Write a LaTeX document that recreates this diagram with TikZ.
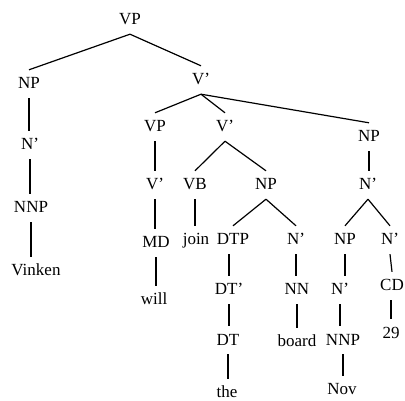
\documentclass[tikz,border=0pt]{standalone}
\usepackage{fontspec}
\setmainfont{Liberation Serif}
\begin{document}
\begin{tikzpicture}[x=1pt,y=-1pt,
  cat/.style={font=\fontsize{17}{19}\selectfont,text height=10pt,text depth=0pt,inner xsep=1pt,inner ysep=9pt},
  edge/.style={draw,line width=1.2pt}]
\useasboundingbox (0,0) rectangle (405,401);
% top
\node[cat](vp) at (130,20){VP};
\node[cat](np1) at (29,84){NP};\node[cat](vbar1) at (201,80){V'};
% subject
\node[cat](nbar1) at (30,145){N'};\node[cat](nnp1) at (31,208){NNP};\node[cat](vinken) at (36,271){Vinken};
% modal
\node[cat](vp2) at (155,127){VP};\node[cat](vbar2) at (155,185){V'};\node[cat](md) at (156,243){MD};\node[cat](will) at (154,300){will};
% verb and object
\node[cat](vbar3) at (225,127){V'};\node[cat](vb) at (195,185){VB};\node[cat](join) at (196,240){join};
\node[cat](np2) at (266,185){NP};\node[cat](dtp) at (233,240){DTP};\node[cat](dtbar) at (229,290){DT'};\node[cat](dt) at (228,340){DT};\node[cat](the) at (227,393){the};
\node[cat](nbar2) at (296,240){N'};\node[cat](nn) at (297,290){NN};\node[cat](board) at (297,342){board};
% date
\node[cat](np3) at (369,137){NP};\node[cat](nbar3) at (368,185){N'};
\node[cat](np4) at (345,240){NP};\node[cat](nbar4) at (340,290){N'};\node[cat](nnp2) at (343,340){NNP};\node[cat](nov) at (342,390){Nov};
\node[cat](nbar5) at (390,240){N'};\node[cat](cd) at (392,286){CD};\node[cat](n29) at (391,333){29};

\path[edge] (vp.south) -- (np1.north);\path[edge] (vp.south) -- (vbar1.north);
\path[edge] (np1.south) -- (np1.south |- nbar1.north);\path[edge] (nbar1.south) -- (nbar1.south |- nnp1.north);\path[edge] (nnp1.south) -- (nnp1.south |- vinken.north);
\path[edge] (vbar1.south) -- (vp2.north);\path[edge] (vbar1.south) -- (vbar3.north);\path[edge] (vbar1.south) -- (np3.north);
\path[edge] (vp2.south) -- (vp2.south |- vbar2.north);\path[edge] (vbar2.south) -- (vbar2.south |- md.north);\path[edge] (md.south) -- (md.south |- will.north);
\path[edge] (vbar3.south) -- (vb.north);\path[edge] (vbar3.south) -- (np2.north);\path[edge] (vb.south) -- (vb.south |- join.north);
\path[edge] (np2.south) -- (dtp.north);\path[edge] (np2.south) -- (nbar2.north);
\path[edge] (dtbar.north |- dtp.south) -- (dtbar.north);
\path[edge] (dtbar.south) -- (dtbar.south |- dt.north);\path[edge] (dt.south) -- (dt.south |- the.north);
\path[edge] (nbar2.south) -- (nbar2.south |- nn.north);\path[edge] (nn.south) -- (nn.south |- board.north);
\path[edge] (np3.south) -- (np3.south |- nbar3.north);\path[edge] (nbar3.south) -- (np4.north);\path[edge] (nbar3.south) -- (nbar5.north);
\path[edge] (np4.south) -- (np4.south |- nbar4.north);\path[edge] (nbar4.south) -- (nbar4.south |- nnp2.north);\path[edge] (nnp2.south) -- (nnp2.south |- nov.north);
\path[edge] (nbar5.south) -- (cd.north);\path[edge] (n29.north |- cd.south) -- (n29.north);
\end{tikzpicture}
\end{document}
